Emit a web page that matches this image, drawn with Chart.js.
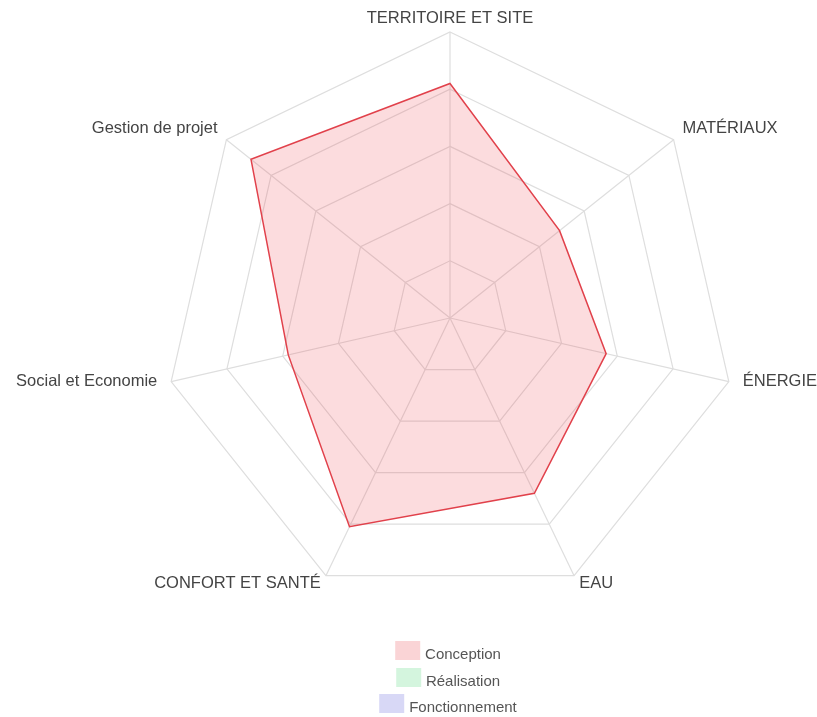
<!DOCTYPE html>
<html>
<head>
<meta charset="utf-8">
<script src="https://cdn.jsdelivr.net/npm/chart.js@4"></script>
<style>
    body { margin: 0; background: #fff; }
    #wrap { position: relative; width: 817px; height: 717px; }
    #legend {
        position: absolute; left: 448px; top: 641px; transform: translateX(-50%);
        display: flex; flex-direction: column; align-items: center;
        font: 15px "Liberation Sans", Arial, sans-serif; color: #555;
    }
    .item { display: flex; align-items: flex-end; height: 19px; margin-bottom: 7.5px; }
    .box { width: 25px; height: 19px; margin-right: 5px; }
    .txt { line-height: 15px; position: relative; top: 1px; }
</style>
</head>
<body>
<div id="wrap">
    <canvas id="radar" width="817" height="717"></canvas>
    <div id="legend"></div>
</div>
<script>
const axisLabels = ['TERRITOIRE ET SITE', 'MATÉRIAUX', 'ÉNERGIE', 'EAU', 'CONFORT ET SANTÉ', 'Social et Economie', 'Gestion de projet'];
const conception = [82, 49, 56, 68, 81, 58, 89];
const realisation = [];
const fonctionnement = [];

const seriesColor = {
    conception: 'rgba(240, 60, 70, 0.18)',
    conceptionLine: 'rgb(225, 65, 75)',
    realisation: 'rgb(212, 245, 222)',
    fonctionnement: 'rgb(216, 216, 246)'
}

// labels drawn like the old radar: centered at top, aside elsewhere
const pointLabelPlugin = {
    id: 'oldLabels',
    afterDraw(chart) {
        const scale = chart.scales.r;
        const ctx = chart.ctx;
        ctx.save();
        ctx.font = '16.5px "Liberation Sans", Arial, sans-serif';
        ctx.fillStyle = '#444';
        for (let i = 0; i < axisLabels.length; i++) {
            const p = scale.getPointPosition(i, scale.drawingArea + 5);
            const a = scale.getIndexAngle(i);
            const sx = Math.sin(a), cy = -Math.cos(a);
            let x = p.x, y = p.y;
            ctx.textAlign = Math.abs(sx) < 0.01 ? 'center' : (sx > 0 ? 'left' : 'right');
            const side = Math.sign(Math.abs(sx) < 0.01 ? 0 : sx);
            if (cy < -0.5) {
                ctx.textBaseline = 'bottom';
                x += side * 5;
            } else if (cy > 0.5) {
                ctx.textBaseline = 'middle';
                x += side * 3;
                y += 3;
            } else {
                ctx.textBaseline = 'middle';
                x += side * 9;
                y -= 1;
            }
            ctx.fillText(axisLabels[i], x, y);
        }
        ctx.restore();
    }
}

const chart = new Chart(document.getElementById('radar'), {
    type: 'radar',
    data: {
        labels: axisLabels,
        datasets: [{
            label: 'Conception',
            data: conception,
            backgroundColor: seriesColor.conception,
            borderColor: seriesColor.conceptionLine,
            borderWidth: 1.5,
            pointRadius: 0,
            legendColor: 'rgb(250, 212, 214)'
        }, {
            label: 'Réalisation',
            data: realisation,
            backgroundColor: seriesColor.realisation,
            borderColor: seriesColor.realisation,
            pointRadius: 0,
            legendColor: seriesColor.realisation
        }, {
            label: 'Fonctionnement',
            data: fonctionnement,
            backgroundColor: seriesColor.fonctionnement,
            borderColor: seriesColor.fonctionnement,
            pointRadius: 0,
            legendColor: seriesColor.fonctionnement
        }]
    },
    options: {
        responsive: false,
        animation: false,
        layout: { padding: { left: 164, right: 81, top: 32, bottom: 113 } },
        elements: { line: { tension: 0 } },
        plugins: {
            legend: { display: false },
            tooltip: { enabled: false }
        },
        scales: {
            r: {
                min: 0,
                max: 100,
                ticks: { display: false, stepSize: 20 },
                grid: { color: 'rgb(222, 222, 222)', lineWidth: 1.2 },
                angleLines: { color: 'rgb(222, 222, 222)', lineWidth: 1.2 },
                pointLabels: { display: false }
            }
        }
    },
    plugins: [pointLabelPlugin]
});

let legendHtml = '';
chart.data.datasets.forEach(ds => {
    legendHtml += `<div class="item"><span class="box" style="background:${ds.legendColor}"></span><span class="txt">${ds.label}</span></div>`;
});
document.getElementById('legend').innerHTML = legendHtml;
</script>
</body>
</html>
